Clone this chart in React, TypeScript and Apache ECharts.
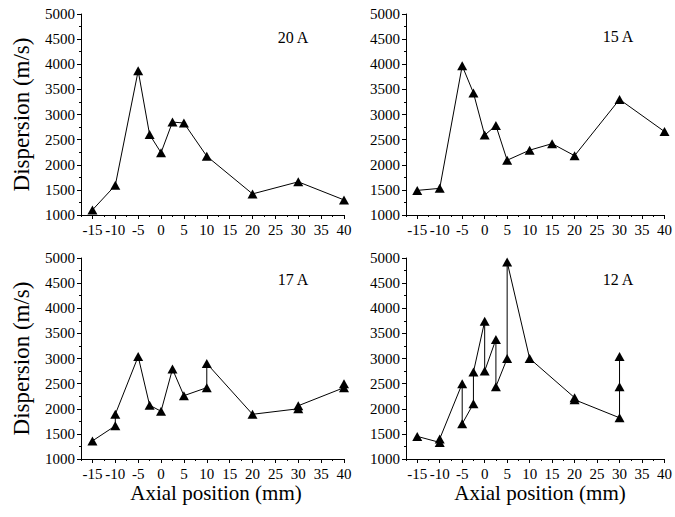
import React, { useEffect, useRef } from "react";
import * as echarts from "echarts";

const xMajorTicks = [-15, -10, -5, 0, 5, 10, 15, 20, 25, 30, 35, 40];
const xMinorTicks = [-17.5, -12.5, -7.5, -2.5, 2.5, 7.5, 12.5, 17.5, 22.5, 27.5, 32.5, 37.5];

const panelLabels = ["20 A", "15 A", "17 A", "12 A"];
const yTitle = "Dispersion (m/s)";
const xTitle = "Axial position (mm)";

const x20 = [-15, -10, -5, -2.5, 0, 2.5, 5, 10, 20, 30, 40];
const y20 = [1100, 1590, 3870, 2600, 2240, 2850, 2830, 2170, 1420, 1660, 1300];

const x15 = [-15, -10, -5, -2.5, 0, 2.5, 5, 10, 15, 20, 30, 40];
const y15 = [1490, 1530, 3970, 3430, 2590, 2780, 2090, 2290, 2420, 2180, 3300, 2660];

const x17 = [-15, -10, -10, -5, -2.5, 0, 2.5, 5, 10, 10, 20, 30, 30, 40, 40];
const y17 = [1360, 1660, 1890, 3040, 2070, 1950, 2790, 2260, 2420, 2900, 1890, 2000, 2060, 2420, 2500];

const x12 = [-15, -10, -10, -5, -5, -2.5, -2.5, 0, 0, 2.5, 2.5, 5, 5, 10, 20, 20, 30, 30, 30];
const y12 = [1450, 1330, 1400, 2500, 1700, 2100, 2730, 3740, 2750, 3380, 2440, 3000, 4920, 3000, 2220, 2180, 1820, 2440, 3040];

const panelX = [x20, x15, x17, x12];
const panelY = [y20, y15, y17, y12];

const FONT = "Liberation Serif";

export default function App() {
  const ref = useRef<HTMLDivElement>(null);
  useEffect(() => {
    document.body.style.margin = "0";
    const chart = echarts.init(ref.current!, null, { renderer: "svg" });
    const grids = [
      { left: 81, top: 14, width: 263, height: 201 },
      { left: 406, top: 14, width: 261, height: 201 },
      { left: 81, top: 258, width: 263, height: 201 },
      { left: 406, top: 258, width: 261, height: 201 },
    ];
    const xAxes: any[] = [];
    const yAxes: any[] = [];
    const series: any[] = [];
    grids.forEach((g, i) => {
      xAxes.push({
        type: "value",
        gridIndex: i,
        position: "bottom",
        min: -17.5,
        max: 40,
        axisLine: { show: true, onZero: false, lineStyle: { color: "#000", width: 1 } },
        axisTick: { show: true, length: 4, customValues: xMajorTicks, lineStyle: { color: "#000" } },
        axisLabel: {
          show: true,
          customValues: xMajorTicks,
          color: "#000",
          fontFamily: FONT,
          fontSize: 15,
          margin: 7,
          formatter: (v: number) => String(v),
        },
        splitLine: { show: false },
      });
      xAxes.push({
        type: "value",
        gridIndex: i,
        position: "top",
        offset: -g.height,
        min: -17.5,
        max: 40,
        axisLine: { show: false, onZero: false },
        axisTick: { show: true, inside: true, length: 2, customValues: xMinorTicks, lineStyle: { color: "#000" } },
        axisLabel: { show: false },
        splitLine: { show: false },
      });
      const leftCol = i % 2 === 0;
      yAxes.push({
        type: "value",
        gridIndex: i,
        min: 1000,
        max: 5000,
        interval: 500,
        name: leftCol ? yTitle : "",
        nameLocation: "middle",
        nameRotate: 90,
        nameGap: 48,
        nameTextStyle: { fontFamily: FONT, fontSize: 23, color: "#000" },
        axisLine: { show: true, onZero: false, lineStyle: { color: "#000", width: 1 } },
        axisTick: { show: true, length: 4, lineStyle: { color: "#000" } },
        minorTick: { show: true, splitNumber: 2, length: 2, lineStyle: { color: "#000" } },
        axisLabel: {
          color: "#000",
          fontFamily: FONT,
          fontSize: 15,
          margin: 6,
          formatter: (v: number) => String(v),
        },
        splitLine: { show: false },
      });
      series.push({
        type: "line",
        xAxisIndex: i * 2,
        yAxisIndex: i,
        data: panelX[i].map((x, k) => [x, panelY[i][k]]),
        symbol: "triangle",
        symbolSize: [10, 9],
        showAllSymbol: true,
        clip: false,
        lineStyle: { color: "#000", width: 1 },
        itemStyle: { color: "#000" },
      });
    });

    const mkTitle = (text: string, cx: number, cy: number, size: number) => ({
      text,
      left: cx,
      top: cy,
      padding: 0,
      textAlign: "center",
      textVerticalAlign: "middle",
      textStyle: { fontFamily: FONT, fontSize: size, fontWeight: "normal", color: "#000" },
    });

    const titles = [
      mkTitle(panelLabels[0], 293, 37, 16),
      mkTitle(panelLabels[1], 618, 36, 16),
      mkTitle(panelLabels[2], 293, 279, 16),
      mkTitle(panelLabels[3], 618, 279, 16),
      mkTitle(xTitle, 216, 493, 21),
      mkTitle(xTitle, 540, 493, 21),
    ];

    chart.setOption({
      animation: false,
      backgroundColor: "#fff",
      textStyle: { fontFamily: FONT },
      title: titles,
      grid: grids,
      xAxis: xAxes,
      yAxis: yAxes,
      series,
    });
    return () => chart.dispose();
  }, []);
  return (
    <div
      ref={ref}
      style={{ position: "absolute", left: 0, top: 0, width: 675, height: 517 }}
    />
  );
}
